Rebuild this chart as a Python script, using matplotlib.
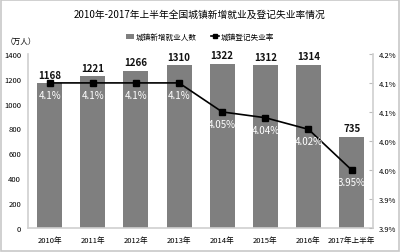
import matplotlib.pyplot as plt
import matplotlib.ticker as mticker
from matplotlib.patches import Rectangle

plt.rcParams['font.family'] = ['Noto Sans CJK SC', 'DejaVu Sans']

# data
years = ['2010年', '2011年', '2012年', '2013年', '2014年', '2015年', '2016年', '2017年上半年']
new_jobs = [1168, 1221, 1266, 1310, 1322, 1312, 1314, 735]
unemp_rate = [4.1, 4.1, 4.1, 4.1, 4.05, 4.04, 4.02, 3.95]
rate_labels = ['4.1%', '4.1%', '4.1%', '4.1%', '4.05%', '4.04%', '4.02%', '3.95%']

fig = plt.figure(figsize=(4, 2.53), dpi=100)
ax = fig.add_axes([0.07, 0.095, 0.863, 0.688])
x = range(len(years))

ax.bar(x, new_jobs, width=0.58, color='#7f7f7f', label='城镇新增就业人数', zorder=2)
ax.set_xlim(-0.5, len(years) - 0.5)
ax.set_ylim(0, 1400)
ax.set_yticks(range(0, 1401, 200))
ax.set_xticks(list(x))
ax.set_xticklabels(years, fontsize=5.5)
ax.tick_params(axis='y', labelsize=5.5, length=0, pad=5)
ax.tick_params(axis='x', length=0, pad=6)
for s in ['top', 'right']:
    ax.spines[s].set_visible(False)
for s in ['left', 'bottom']:
    ax.spines[s].set_color('#d0d0d0')
    ax.spines[s].set_linewidth(1.2)

for i, v in enumerate(new_jobs):
    ax.text(i, v + 25, str(v), ha='center', va='bottom', fontsize=7,
            fontweight='bold', color='#111111')

ax2 = ax.twinx()
ax2.plot(x, unemp_rate, color='black', lw=1.2, marker='s', markersize=5,
         label='城镇登记失业率', zorder=3)
ax2.set_ylim(3.85, 4.15)
ax2.set_yticks([3.85, 3.9, 3.95, 4.0, 4.05, 4.1, 4.15])
ax2.yaxis.set_major_formatter(mticker.FuncFormatter(lambda v, p: format(v + 1e-9, '.1f') + '%'))
ax2.tick_params(axis='y', labelsize=5.5, length=3, direction='in', color='#bbbbbb', pad=4)
for s in ['top', 'left', 'bottom']:
    ax2.spines[s].set_visible(False)
ax2.spines['right'].set_color('#d0d0d0')
ax2.spines['right'].set_linewidth(1.2)

for i, v in enumerate(unemp_rate):
    ax2.text(i, v - 0.012, rate_labels[i], ha='center', va='top', fontsize=7,
             color='white')

fig.text(0.5, 0.94, '2010年-2017年上半年全国城镇新增就业及登记失业率情况',
         ha='center', va='center', fontsize=7)
fig.text(0.015, 0.835, '（万人）', ha='left', va='center', fontsize=5.5)

h1, l1 = ax.get_legend_handles_labels()
h2, l2 = ax2.get_legend_handles_labels()
fig.legend(h1 + h2, l1 + l2, loc='center', bbox_to_anchor=(0.5, 0.85), ncol=2,
           frameon=False, fontsize=5.5, handlelength=1.0, handletextpad=0.2,
           columnspacing=2.0, markerscale=0.6)

fig.patches.append(Rectangle((0.002, 0.004), 0.996, 0.992, transform=fig.transFigure,
                             fill=False, edgecolor='#c8c8c8', lw=1.2))

fig.savefig('out.png', dpi=100, facecolor='white')
